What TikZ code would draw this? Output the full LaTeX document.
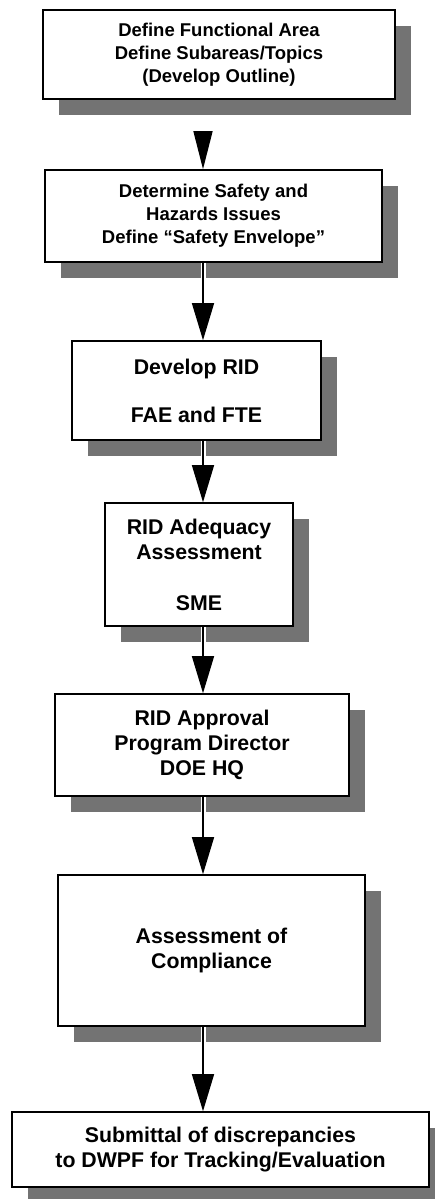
\documentclass[tikz,border=0pt]{standalone}
\usepackage{fontspec}
\setmainfont{Liberation Sans}
\usetikzlibrary{arrows.meta,shadows}

\tikzset{
  stepbox/.style={draw, line width=1.6pt, fill=white, align=center, inner sep=0pt,
    drop shadow={shadow xshift=16pt, shadow yshift=-16pt, fill=black!55, opacity=1}},
  smalltext/.style={font=\bfseries\fontsize{18.5}{23}\selectfont},
  bigtext/.style={font=\bfseries\fontsize{21.3}{25}\selectfont},
  flow/.style={line width=1.4pt, -{Triangle[length=37pt,width=22pt]},
    preaction={draw=white, line width=5pt, -}},
}

\begin{document}
\begin{tikzpicture}[x=1pt, y=-1pt]
	\useasboundingbox (0,0) rectangle (435,1199);

	%Kaesten
	\node[stepbox, smalltext, minimum width=352pt, minimum height=89pt] (define) at (219, 54.5)
		{Define Functional Area\\Define Subareas/Topics\\(Develop Outline)};
	\node[stepbox, smalltext, minimum width=337pt, minimum height=92pt] (hazards) at (213.5, 216)
		{Determine Safety and\\Hazards Issues\\Define “Safety Envelope”};
	\node[stepbox, bigtext, minimum width=249pt, minimum height=99pt] (rid) at (196.5, 390.5)
		{Develop RID\\[23pt]FAE and FTE};
	\node[stepbox, bigtext, minimum width=188pt, minimum height=123pt] (adequacy) at (199, 564.5)
		{RID Adequacy\\Assessment\\[26pt]SME};
	\node[stepbox, bigtext, minimum width=294pt, minimum height=102pt] (approval) at (202, 745)
		{RID Approval\\Program Director\\DOE HQ};
	\node[stepbox, bigtext, minimum width=307pt, minimum height=151pt] (compliance) at (211.5, 950.5)
		{Assessment of\\Compliance};
	\node[stepbox, bigtext, minimum width=417pt, minimum height=75pt] (submittal) at (220.5, 1149.5)
		{Submittal of discrepancies\\to DWPF for Tracking/Evaluation};

	%Pfeile
	\coordinate (spine) at (203, 0);
	\draw[line width=1.4pt, -{Triangle[length=38pt,width=19pt]}, shorten <=33pt]
		(define.south -| spine) -- (hazards.north -| spine);
	\draw[flow] (hazards.south -| spine) -- (rid.north -| spine);
	\draw[flow] (rid.south -| spine) -- (adequacy.north -| spine);
	\draw[flow] (adequacy.south -| spine) -- (approval.north -| spine);
	\draw[flow] (approval.south -| spine) -- (compliance.north -| spine);
	\draw[flow] (compliance.south -| spine) -- (submittal.north -| spine);
\end{tikzpicture}
\end{document}
